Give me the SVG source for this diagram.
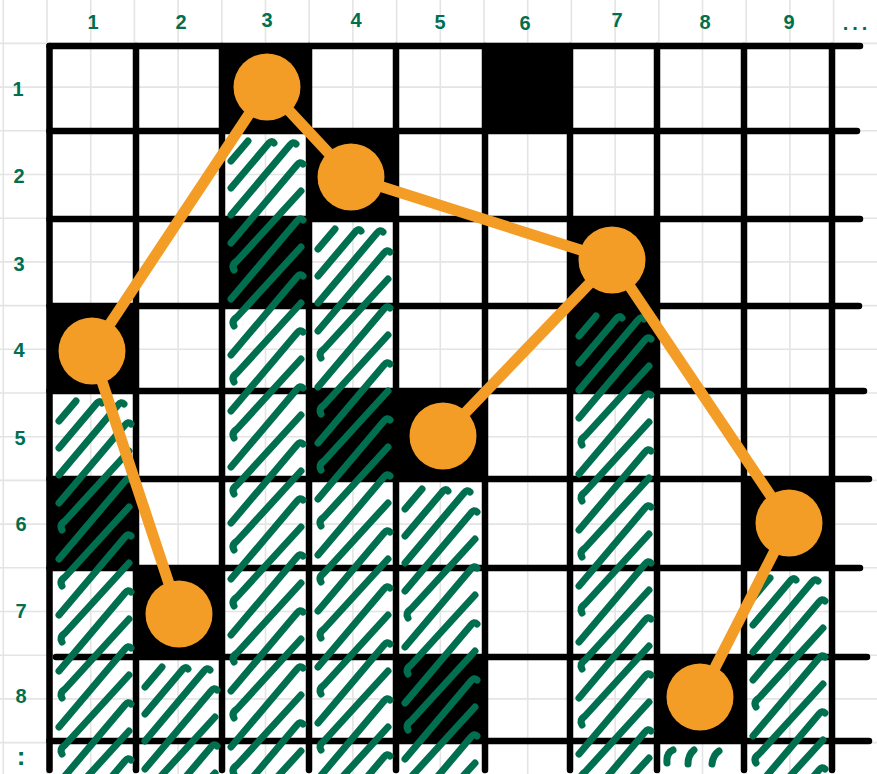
<svg xmlns="http://www.w3.org/2000/svg" width="877" height="774" viewBox="0 0 877 774">
<style>
.gg{stroke:#e4e4e4;stroke-width:1.6;fill:none}
.bl{stroke:#000;stroke-width:6.5;stroke-linecap:round;fill:none}
.cell{fill:#000}
.h{fill:none;stroke:#006f4f;stroke-width:7;stroke-linecap:round;stroke-linejoin:round}
.e{stroke:#f39c26;stroke-width:11;stroke-linecap:round}
.n{fill:#f39c26}
.lbl{font-family:"Liberation Sans",Arial,sans-serif;font-weight:700;font-size:20px;fill:#006f4f;text-anchor:middle}
</style>
<defs>
<path id="a" class="h" d="M0,0 L17,-20"/>
<path id="b" class="h" d="M0,0 L38,-45 q3,-3 5,0"/>
<path id="c" class="h" d="M0,0 L59,-70 q3,-4 6,-1"/>
<path id="f1" class="h" d="M0,0 L66,-78 q3,-4 6,-1"/>
<path id="f2" class="h" d="M3,-1 q-3,-5 3,-9 L70,-80"/>
</defs>
<rect width="877" height="774" fill="#fff"/>
<g id="paper">
<path class="gg" d="M3.3,0V774M47,0V774M90.7,0V774M134.4,0V774M178.1,0V774M221.8,0V774M265.5,0V774M309.2,0V774M352.9,0V774M396.6,0V774M440.3,0V774M484,0V774M527.7,0V774M571.4,0V774M615.1,0V774M658.8,0V774M702.5,0V774M746.2,0V774M789.9,0V774M833.6,0V774M0,43.4H877M0,87.1H877M0,130.8H877M0,174.5H877M0,218.2H877M0,261.9H877M0,305.6H877M0,349.3H877M0,393H877M0,436.7H877M0,480.4H877M0,524.1H877M0,567.8H877M0,611.5H877M0,655.2H877M0,698.9H877M0,742.6H877"/>
</g>
<g id="cells">
<rect class="cell" x="222" y="46" width="87" height="85"/>
<path class="cell" d="M483,46H566Q573,46 573,54V131H483Z"/>
<rect class="cell" x="309" y="131" width="87" height="88"/>
<rect class="cell" x="222" y="219" width="87" height="87"/>
<rect class="cell" x="570" y="219" width="87" height="87"/>
<rect class="cell" x="49.5" y="306" width="86.5" height="85"/>
<rect class="cell" x="570" y="306" width="87" height="85"/>
<rect class="cell" x="309" y="391" width="87" height="88"/>
<rect class="cell" x="396" y="391" width="89" height="88"/>
<rect class="cell" x="49.5" y="479" width="86.5" height="89"/>
<rect class="cell" x="744" y="479" width="88" height="89"/>
<rect class="cell" x="136" y="568" width="86" height="89"/>
<rect class="cell" x="396" y="657" width="89" height="84"/>
<rect class="cell" x="657" y="657" width="87" height="84"/>
</g>
<g id="grid">
<path class="bl" d="M49.5,46V770M136,46V770M222,46V770M309,46V770M396,46V770M485,46V770M570,46V770M657,46V770M744,46V770M832,46V770"/>
<path class="bl" d="M49.5,46H860M49.5,131H857M49.5,219H860M49.5,306H859M49.5,391H864M49.5,479H869M49.5,568H860M56,657H867M49.5,741H869"/>
</g>
<g id="hatching">
<use href="#a" x="59" y="421"/><use href="#b" x="59" y="448"/><use href="#c" x="59" y="475"/>
<use href="#f1" x="59" y="503"/><use href="#f2" x="59" y="531"/><use href="#f1" x="59" y="559"/><use href="#f2" x="59" y="587"/><use href="#f1" x="59" y="615"/><use href="#f2" x="59" y="643"/><use href="#f1" x="59" y="671"/><use href="#f2" x="59" y="699"/><use href="#f1" x="59" y="727"/><use href="#f2" x="59" y="755"/><use href="#f1" x="59" y="783"/><use href="#f2" x="59" y="811"/><use href="#f1" x="59" y="839"/>
<use href="#a" x="145" y="687"/><use href="#b" x="145" y="714"/><use href="#c" x="145" y="741"/>
<use href="#f1" x="145" y="769"/><use href="#f2" x="145" y="797"/><use href="#f1" x="145" y="825"/><use href="#f2" x="145" y="853"/>
<use href="#a" x="231" y="161"/><use href="#b" x="231" y="188"/><use href="#c" x="231" y="215"/>
<use href="#f1" x="231" y="243"/><use href="#f2" x="231" y="271"/><use href="#f1" x="231" y="299"/><use href="#f2" x="231" y="327"/><use href="#f1" x="231" y="355"/><use href="#f2" x="231" y="383"/><use href="#f1" x="231" y="411"/><use href="#f2" x="231" y="439"/><use href="#f1" x="231" y="467"/><use href="#f2" x="231" y="495"/><use href="#f1" x="231" y="523"/><use href="#f2" x="231" y="551"/><use href="#f1" x="231" y="579"/><use href="#f2" x="231" y="607"/><use href="#f1" x="231" y="635"/><use href="#f2" x="231" y="663"/><use href="#f1" x="231" y="691"/><use href="#f2" x="231" y="719"/><use href="#f1" x="231" y="747"/><use href="#f2" x="231" y="775"/><use href="#f1" x="231" y="803"/><use href="#f2" x="231" y="831"/>
<use href="#a" x="318" y="249"/><use href="#b" x="318" y="276"/><use href="#c" x="318" y="303"/>
<use href="#f1" x="318" y="331"/><use href="#f2" x="318" y="359"/><use href="#f1" x="318" y="387"/><use href="#f2" x="318" y="415"/><use href="#f1" x="318" y="443"/><use href="#f2" x="318" y="471"/><use href="#f1" x="318" y="499"/><use href="#f2" x="318" y="527"/><use href="#f1" x="318" y="555"/><use href="#f2" x="318" y="583"/><use href="#f1" x="318" y="611"/><use href="#f2" x="318" y="639"/><use href="#f1" x="318" y="667"/><use href="#f2" x="318" y="695"/><use href="#f1" x="318" y="723"/><use href="#f2" x="318" y="751"/><use href="#f1" x="318" y="779"/><use href="#f2" x="318" y="807"/><use href="#f1" x="318" y="835"/>
<use href="#a" x="405" y="509"/><use href="#b" x="405" y="536"/><use href="#c" x="405" y="563"/>
<use href="#f1" x="405" y="591"/><use href="#f2" x="405" y="619"/><use href="#f1" x="405" y="647"/><use href="#f2" x="405" y="675"/><use href="#f1" x="405" y="703"/><use href="#f2" x="405" y="731"/><use href="#f1" x="405" y="759"/><use href="#f2" x="405" y="787"/><use href="#f1" x="405" y="815"/><use href="#f2" x="405" y="843"/>
<use href="#a" x="579" y="336"/><use href="#b" x="579" y="363"/><use href="#c" x="579" y="390"/>
<use href="#f1" x="579" y="418"/><use href="#f2" x="579" y="446"/><use href="#f1" x="579" y="474"/><use href="#f2" x="579" y="502"/><use href="#f1" x="579" y="530"/><use href="#f2" x="579" y="558"/><use href="#f1" x="579" y="586"/><use href="#f2" x="579" y="614"/><use href="#f1" x="579" y="642"/><use href="#f2" x="579" y="670"/><use href="#f1" x="579" y="698"/><use href="#f2" x="579" y="726"/><use href="#f1" x="579" y="754"/><use href="#f2" x="579" y="782"/><use href="#f1" x="579" y="810"/><use href="#f2" x="579" y="838"/>
<use href="#a" x="753" y="598"/><use href="#b" x="753" y="625"/><use href="#c" x="753" y="652"/>
<use href="#f1" x="753" y="680"/><use href="#f2" x="753" y="708"/><use href="#f1" x="753" y="736"/><use href="#f2" x="753" y="764"/><use href="#f1" x="753" y="792"/><use href="#f2" x="753" y="820"/><use href="#f1" x="753" y="848"/>
<path class="h" d="M667,763q-1,-10 6,-13M688,764q0,-9 6,-14M712,764q1,-9 7,-13"/>
</g>
<g id="connectors">
<line class="e" x1="92" y1="351" x2="267" y2="87"/>
<line class="e" x1="267" y1="87" x2="351" y2="177"/>
<line class="e" x1="351" y1="177" x2="612" y2="260"/>
<line class="e" x1="612" y1="260" x2="443" y2="436"/>
<line class="e" x1="612" y1="260" x2="789" y2="523"/>
<line class="e" x1="92" y1="351" x2="179" y2="614"/>
<line class="e" x1="789" y1="523" x2="700" y2="697"/>
</g>
<g id="node-c1"><circle class="n" cx="92" cy="351" r="33.5"/></g>
<g id="node-c2"><circle class="n" cx="179" cy="614" r="33.5"/></g>
<g id="node-c3"><circle class="n" cx="267" cy="87" r="33.5"/></g>
<g id="node-c4"><circle class="n" cx="351" cy="177" r="33.5"/></g>
<g id="node-c5"><circle class="n" cx="443" cy="436" r="33.5"/></g>
<g id="node-c7"><circle class="n" cx="612" cy="260" r="33.5"/></g>
<g id="node-c8"><circle class="n" cx="700" cy="697" r="33.5"/></g>
<g id="node-c9"><circle class="n" cx="789" cy="523" r="33.5"/></g>
<g id="labels">
<text class="lbl" x="93" y="29">1</text>
<text class="lbl" x="181" y="29">2</text>
<text class="lbl" x="267" y="27">3</text>
<text class="lbl" x="356" y="27">4</text>
<text class="lbl" x="440" y="29">5</text>
<text class="lbl" x="525" y="30">6</text>
<text class="lbl" x="617" y="27">7</text>
<text class="lbl" x="705" y="29">8</text>
<text class="lbl" x="789" y="29">9</text>
<text class="lbl" x="857" y="30" style="letter-spacing:4px">...</text>
<text class="lbl" x="18" y="96">1</text>
<text class="lbl" x="19" y="183">2</text>
<text class="lbl" x="19" y="271">3</text>
<text class="lbl" x="19" y="357">4</text>
<text class="lbl" x="20" y="445">5</text>
<text class="lbl" x="21" y="531">6</text>
<text class="lbl" x="21" y="618">7</text>
<text class="lbl" x="21" y="703">8</text>
<text class="lbl" x="21" y="765" style="font-size:26px">:</text>
</g>
</svg>
